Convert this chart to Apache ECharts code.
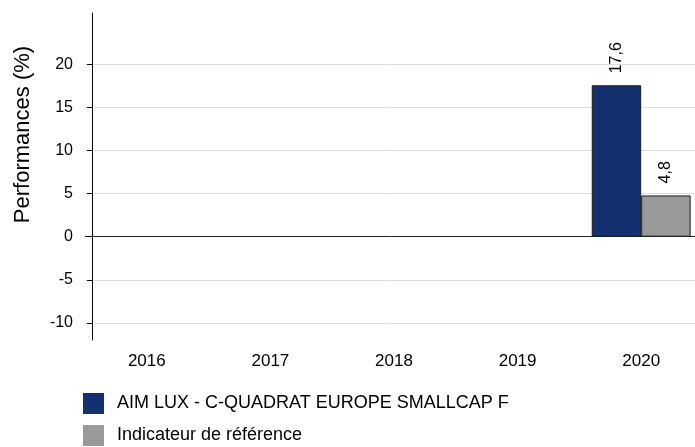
<!DOCTYPE html>
<html>
<head>
<meta charset="utf-8">
<script src="https://cdn.jsdelivr.net/npm/echarts@6/dist/echarts.min.js"></script>
<style>
  html, body { margin: 0; padding: 0; background: #fff; }
  #chart { width: 695px; height: 447px; }
</style>
</head>
<body>
<div id="chart"></div>
<script>
// data
const years = ['2016', '2017', '2018', '2019', '2020']
const fundName = 'AIM LUX - C-QUADRAT EUROPE SMALLCAP F'
const benchName = 'Indicateur de référence'
const fundValues = [null, null, null, null, 17.6]
const benchValues = [null, null, null, null, 4.8]
const yTicks = [-10, -5, 0, 5, 10, 15, 20]

const font = 'Liberation Sans, Arial, sans-serif'

function fmt(p) {
  return p.value == null ? '' : p.value.toFixed(1).replace('.', ',')
}

const barLabel = {
  show: true,
  position: 'top',
  rotate: 90,
  align: 'left',
  verticalAlign: 'middle',
  distance: 12,
  fontSize: 16,
  fontFamily: font,
  color: '#000',
  formatter: fmt
}

const chart = echarts.init(document.getElementById('chart'), null, { renderer: 'canvas' })
chart.setOption({
  animation: false,
  backgroundColor: '#fff',
  grid: { left: 85, width: 618, top: 13, bottom: 107, containLabel: false, outerBoundsMode: 'none' },
  legend: {
    orient: 'vertical',
    left: 83,
    top: 393,
    height: 80,
    padding: 0,
    itemWidth: 21,
    itemHeight: 21,
    itemGap: 11,
    icon: 'rect',
    itemStyle: { borderWidth: 0 },
    textStyle: { fontSize: 18, fontFamily: font, color: '#000', padding: [0, 0, 0, 8] },
    data: [fundName, benchName]
  },
  xAxis: {
    type: 'category',
    data: years,
    axisLine: { show: false },
    axisTick: { show: false },
    splitLine: { show: false },
    axisLabel: { fontSize: 17, fontFamily: font, color: '#000', margin: 13 }
  },
  yAxis: {
    type: 'value',
    min: -12,
    max: 26,
    offset: -7,
    name: 'Performances (%)',
    nameLocation: 'middle',
    nameGap: 58,
    nameTextStyle: { fontSize: 22, fontFamily: font, color: '#000', padding: [0, 0, 0, 84] },
    axisLine: { show: true, lineStyle: { color: '#000', width: 1 } },
    axisTick: { show: true, length: 5, customValues: yTicks, lineStyle: { color: '#000' } },
    axisLabel: { customValues: yTicks, fontSize: 16, fontFamily: font, color: '#000', margin: 19 },
    splitLine: {
      show: true,
      lineStyle: { color: yTicks.map(v => v === 0 ? '#222' : '#dcdcdc'), width: 1 }
    }
  },
  series: [
    {
      name: fundName,
      type: 'bar',
      data: fundValues,
      barGap: '0%',
      barCategoryGap: '20%',
      itemStyle: { color: '#14316f', borderColor: '#1a1a1a', borderWidth: 1 },
      label: barLabel
    },
    {
      name: benchName,
      type: 'bar',
      data: benchValues,
      itemStyle: { color: '#999999', borderColor: '#1a1a1a', borderWidth: 1 },
      label: barLabel
    }
  ]
})
</script>
</body>
</html>
